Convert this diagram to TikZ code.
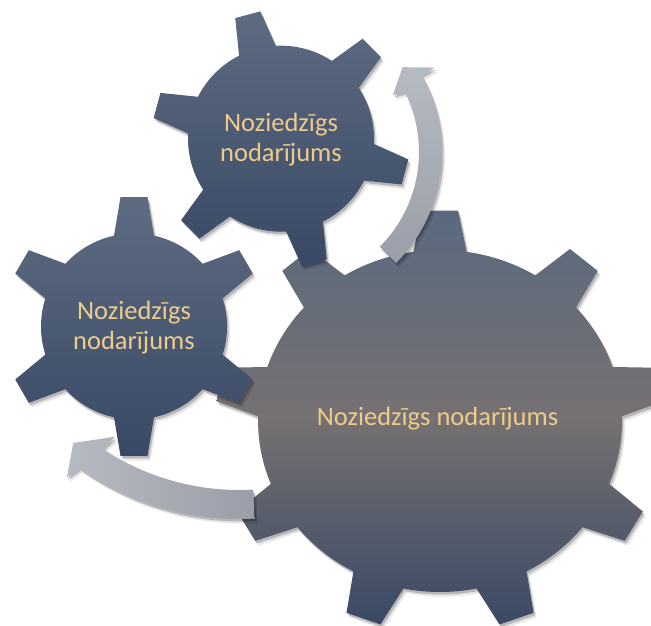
\documentclass[tikz,border=0pt]{standalone}
\usepackage{fontspec}
\setmainfont{Carlito}
\usetikzlibrary{shadows}
\definecolor{smallTop}{HTML}{5E6C82}
\definecolor{smallBot}{HTML}{394864}
\definecolor{bigTop}{HTML}{5A697F}
\definecolor{bigMid}{HTML}{767172}
\definecolor{bigBot}{HTML}{3A4965}
\definecolor{arrowLight}{HTML}{B6BAC2}
\definecolor{arrowDark}{HTML}{9A9EA8}
\definecolor{labelGold}{HTML}{EDCB8B}

% #1 options, #2 teeth, #3 first tooth angle, #4 body radius, #5 tip radius, #6 base half width, #7 tip half width
\newcommand\drawcog[7]{%
  \pgfmathsetmacro\cogS{360/#2}%
  \pgfmathsetmacro\cogBb{asin(#6/#4)}%
  \pgfmathsetmacro\cogBt{asin(#7/#5)}%
  \pgfmathtruncatemacro\cogN{#2-1}%
  \path[#1] ({#3-\cogBb}:#4)
    \foreach \k in {0,...,\cogN}{
      -- ({#3+\k*\cogS-\cogBt}:#5) -- ({#3+\k*\cogS+\cogBt}:#5) -- ({#3+\k*\cogS+\cogBb}:#4)
      arc[start angle={#3+\k*\cogS+\cogBb}, end angle={#3+(\k+1)*\cogS-\cogBb}, radius=#4]
    } -- cycle;
}

\tikzset{
  softshadow/.style={
    drop shadow={shadow xshift=1.5pt, shadow yshift=-2.5pt, opacity=0.20, fill=black},
    drop shadow={shadow xshift=3pt, shadow yshift=-4.5pt, opacity=0.10, fill=black}},
  smallcog/.style={softshadow, top color=smallTop, bottom color=smallBot},
  bigcog/.style={softshadow, top color=bigTop, bottom color=bigBot, middle color=bigMid},
  cyclearrow/.style={softshadow},
  cogtext/.style={text=labelGold, font=\fontsize{26.5}{29.5}\selectfont, inner sep=0pt, align=center}
}

\begin{document}
\begin{tikzpicture}[x=1pt,y=1pt]
\useasboundingbox (0,0) rectangle (651,625);

% big gear
\begin{scope}[shift={(440,204)}, xscale=1.064]
  \drawcog{bigcog}{9}{90}{171}{211}{25}{17}
\end{scope}

% left gear
\begin{scope}[shift={(134,298.5)}]
  \drawcog{smallcog}{6}{90}{93}{130}{20}{13.5}
\end{scope}

% top gear
\begin{scope}[shift={(281,486.3)}]
  \drawcog{smallcog}{6}{105}{93}{129}{19}{13}
\end{scope}

% top arrow
\begin{scope}[shift={(285,473)}]
  \path[cyclearrow, top color=arrowLight, bottom color=arrowDark]
    (-45:134) -- (-45:157) arc[start angle=-45, end angle=29.2, radius=157]
    -- (29.4:172) -- (35.8:145) -- (27.8:122) -- (26.6:134)
    arc[start angle=26.6, end angle=-45, radius=134] -- cycle;
\end{scope}

% bottom arrow
\begin{scope}[shift={(239,381)}]
  \path[cyclearrow, left color=arrowLight, right color=arrowDark]
    (-86.7:246) -- (-86.7:275) arc[start angle=-86.7, end angle=-125.4, radius=275]
    -- (-126.4:290) -- (-129.8:259) -- (-122.7:229) -- (-123.7:246)
    arc[start angle=-123.7, end angle=-86.7, radius=246] -- cycle;
\end{scope}

\node[cogtext] (toplabel) at (281,485.3) {Noziedzīgs\\nodarījums};
\node[cogtext] (leftlabel) at (134,297.5) {Noziedzīgs\\nodarījums};
\node[cogtext, anchor=base] (biglabel) at (437.5,200) {Noziedzīgs nodarījums};
\end{tikzpicture}
\end{document}
